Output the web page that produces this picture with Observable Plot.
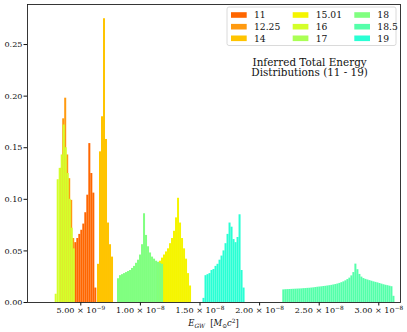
<!DOCTYPE html>
<html><head><meta charset="utf-8">
<script src="https://cdn.jsdelivr.net/npm/d3@7"></script>
<script src="https://cdn.jsdelivr.net/npm/@observablehq/plot@0.6"></script>
<style>
body{margin:0;background:#fff;}
#chart svg{display:block;}
</style></head><body><div id="chart"></div>
<script>
// ---- data ----
const seriesLabels = ["11", "12.25", "14", "15.01", "16", "17", "18", "18.5", "19"];
const seriesColors = ["#ff6600", "#ff9a10", "#ffc400", "#f5f500", "#d4ff2a", "#aaff55", "#80ff80", "#55ffaa", "#2affd4"];
const binWidth = 0.168e-9;
const binStarts = [4.497e-9, 3.314e-9, 6.401e-9, 11.435e-9, 2.852e-9, 0, 8.079e-9, 21.946e-9, 15.252e-9];

const h11 = [0.058, 0.062, 0.066, 0.070, 0.076, 0.087, 0.104, 0.154, 0.125, 0.106, 0.014];
const h1225 = [0.130, 0.178, 0.198, 0.143, 0.120, 0.099, 0.062];
const h14 = [0.037, 0.146, 0.180, 0.275, 0.158, 0.077, 0.056, 0.044];
const h1501 = [0.038, 0.040, 0.043, 0.046, 0.049, 0.052, 0.057, 0.062, 0.069, 0.082, 0.101, 0.077, 0.062, 0.052, 0.042, 0.028, 0.016];
const h16 = [0.008, 0.119, 0.130, 0.143, 0.172, 0.150, 0.125, 0.100, 0.072, 0.052];
const h17 = [];
const h18 = [0.023, 0.026, 0.027, 0.028, 0.029, 0.030, 0.031, 0.033, 0.035, 0.038, 0.041, 0.046, 0.056, 0.086, 0.065, 0.054, 0.048, 0.044, 0.042, 0.040, 0.039, 0.038, 0.037];
const h185 = [0.0122, 0.0124, 0.0125, 0.0126, 0.0127, 0.0128, 0.0129, 0.0130, 0.0131, 0.0132,
              0.0134, 0.0135, 0.0137, 0.0138, 0.0140, 0.0142, 0.0145, 0.0148, 0.0150, 0.0152,
              0.0155, 0.0157, 0.0160, 0.0163, 0.0166, 0.0170, 0.0174, 0.0179, 0.0185, 0.0192,
              0.0200, 0.0210, 0.0222, 0.0236, 0.0258, 0.0290, 0.0372, 0.0318, 0.0272, 0.0246,
              0.0232, 0.0224, 0.0218, 0.0212, 0.0206, 0.0200, 0.0195, 0.0190, 0.0184, 0.0178,
              0.0172, 0.0167, 0.0163, 0.0158, 0.0153, 0.0060];
const h19 = [0.004, 0.026, 0.027, 0.028, 0.031, 0.032, 0.035, 0.037, 0.041, 0.045, 0.050, 0.057, 0.066, 0.077, 0.073, 0.061, 0.058, 0.063, 0.085, 0.031, 0.014];
const heights = [h11, h1225, h14, h1501, h16, h17, h18, h185, h19];

const xTicks = [5e-9, 1e-8, 1.5e-8, 2e-8, 2.5e-8, 3e-8];
const xTickMantissa = ["5.00", "1.00", "1.50", "2.00", "2.50", "3.00"];
const xTickExponent = ["−9", "−8", "−8", "−8", "−8", "−8"];
const yTicks = [0, 0.05, 0.10, 0.15, 0.20, 0.25];
const yTickLabels = ["0.00", "0.05", "0.10", "0.15", "0.20", "0.25"];
const titleLines = ["Inferred Total Energy", "Distributions (11 - 19)"];

// ---- build bin rows ----
const seriesRows = seriesLabels.map((s, k) =>
  heights[k].map((h, i) => ({
    series: s,
    x1: binStarts[k] + i * binWidth,
    x2: binStarts[k] + (i + 1) * binWidth,
    y: h
  })));

const font = "DejaVu Serif";
const plot = Plot.plot({
  width: 407,
  height: 332,
  marginLeft: 27,
  marginRight: 7,
  marginTop: 4,
  marginBottom: 30,
  style: {fontFamily: font, fontSize: "8.1px", color: "#111", background: "#fff", overflow: "visible"},
  x: {domain: [0.5285e-9, 31.82e-9]},
  y: {domain: [0, 0.2888]},
  marks: [
    ...seriesRows.map((rows, k) =>
      Plot.rectY(rows, {x1: "x1", x2: "x2", y: "y", fill: seriesColors[k], inset: 0})),
    Plot.axisX({ticks: xTicks, tickFormat: d => xTickMantissa[xTicks.indexOf(d)] + " × 10" + xTickExponent[xTicks.indexOf(d)], tickSize: 3.5, tickPadding: 1.5, label: null, stroke: "#111"}),
    Plot.axisY({ticks: yTicks, tickFormat: d => yTickLabels[yTicks.indexOf(d)], tickSize: 3.5, tickPadding: 1.5, label: null, stroke: "#111"}),
    Plot.frame({stroke: "#222", strokeWidth: 0.9})
  ]
});
document.getElementById("chart").appendChild(plot);

const svg = d3.select(plot);

// render the x tick exponents as real superscripts
svg.selectAll('g[aria-label="x-axis tick label"] text').each(function() {
  const t = d3.select(this);
  const s = t.text();
  const m = s.match(/^(.*10)(−\d)$/);
  if (!m) return;
  t.text("");
  t.append("tspan").text(m[1]);
  t.append("tspan").attr("font-size", "5.8px").attr("dy", "-3.2").text(m[2]);
});

// legend
const lg = svg.append("g").attr("font-family", font).attr("font-size", "9.2px").attr("text-anchor", "start");
lg.append("rect").attr("x", 227).attr("y", 7).attr("width", 169).attr("height", 38.5)
  .attr("rx", 2).attr("fill", "#fff").attr("fill-opacity", 0.85).attr("stroke", "#d0d0d0").attr("stroke-width", 0.8);
const colX = [231, 292.7, 354.3];
const rowY = [15, 26.7, 38.3];
seriesLabels.forEach((s, k) => {
  const c = Math.floor(k / 3), r = k % 3;
  lg.append("rect").attr("x", colX[c]).attr("y", rowY[r] - 2.8).attr("width", 15.7).attr("height", 5.6).attr("fill", seriesColors[k]);
  lg.append("text").attr("x", colX[c] + 23).attr("y", rowY[r] + 3.3).attr("text-anchor", "start").attr("fill", "#111").text(s);
});

// title inside the axes
const tg = svg.append("g").attr("font-family", font).attr("font-size", "10.4px").attr("text-anchor", "middle").attr("fill", "#111");
titleLines.forEach((t, i) => tg.append("text").attr("x", 309.6).attr("y", 65.7 + i * 10.6).text(t));

// x axis label: E_GW [M_sun c^2]
const xl = svg.append("text").attr("x", 213.5).attr("y", 326).attr("text-anchor", "middle")
  .attr("font-family", font).attr("font-size", "8.4px").attr("fill", "#111");
xl.append("tspan").attr("font-style", "italic").text("E");
xl.append("tspan").attr("font-style", "italic").attr("font-size", "5.8px").attr("dy", 1.8).text("GW");
xl.append("tspan").attr("dy", -1.8).attr("xml:space", "preserve").text("  [");
xl.append("tspan").attr("font-style", "italic").text("M");
xl.append("tspan").attr("font-size", "5.8px").attr("dy", 1.8).text("⊙");
xl.append("tspan").attr("font-style", "italic").attr("dy", -1.8).text("c");
xl.append("tspan").attr("font-size", "5.8px").attr("dy", -3).text("2");
xl.append("tspan").attr("dy", 3).text("]");
</script></body></html>
